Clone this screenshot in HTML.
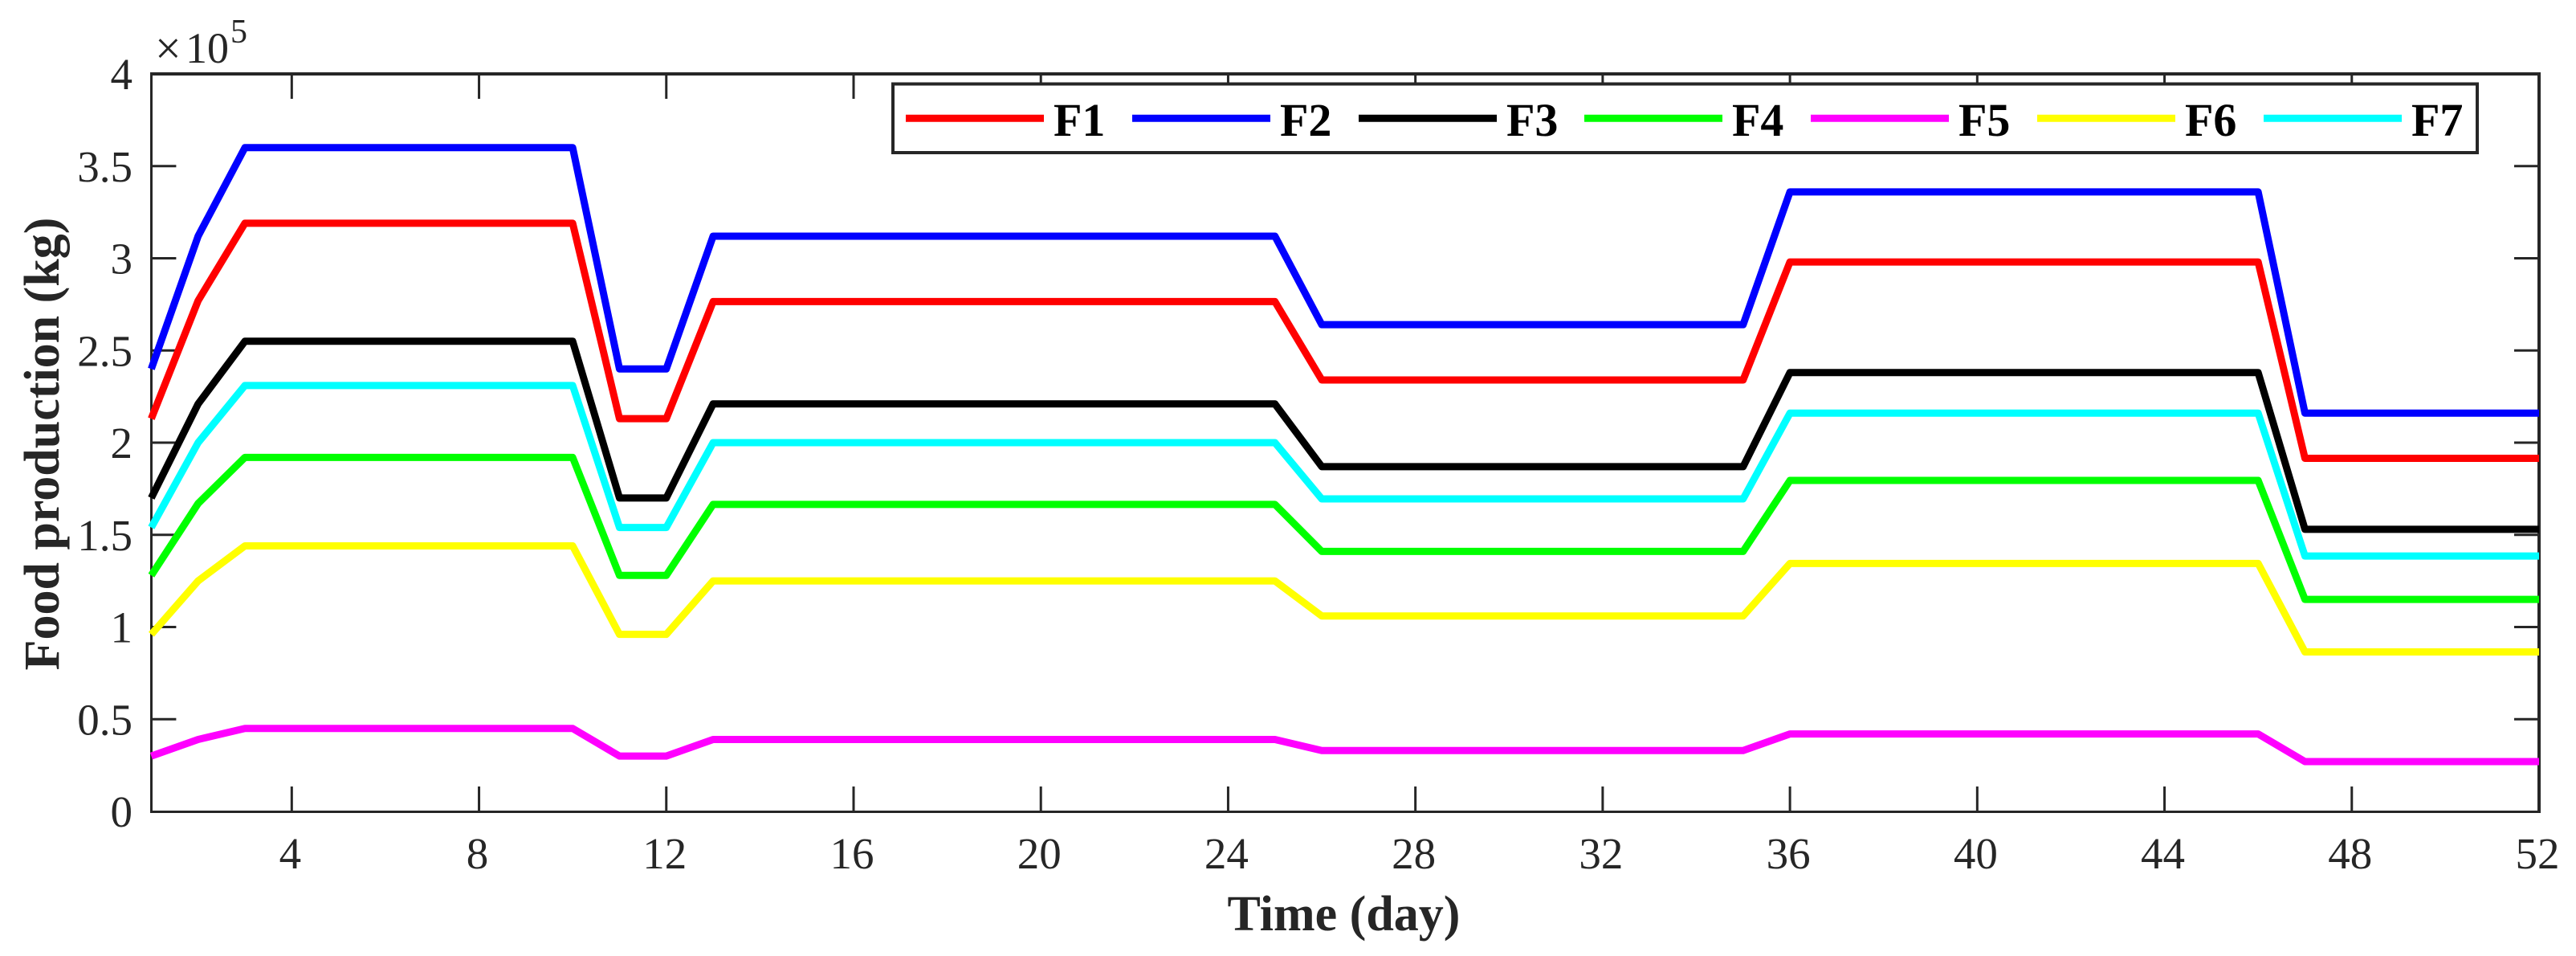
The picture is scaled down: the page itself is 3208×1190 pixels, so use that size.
<!DOCTYPE html>
<html lang="en">
<head>
<meta charset="utf-8">
<title>Food production over time</title>
<style>
html,body{margin:0;padding:0;background:#fff;}
svg{display:block;font-family:"Liberation Serif",serif;}
.tick-label{font-size:55px;fill:#262626;}
.axis-title{font-size:62px;font-weight:bold;fill:#262626;}
.legend-label{font-size:58px;font-weight:bold;fill:#000;}
</style>
</head>
<body>
<svg id="chart" xmlns="http://www.w3.org/2000/svg" width="3208" height="1190" viewBox="0 0 3208 1190">
  <rect x="0" y="0" width="3208" height="1190" fill="#fff"/>
  <g id="axes">
    <rect x="187" y="90" width="3" height="922" fill="#262626"/>
    <rect x="187" y="1009" width="2977" height="3" fill="#262626"/>
    <rect x="187" y="90" width="2977" height="4" fill="#262626"/>
    <rect x="3160" y="90" width="4" height="922" fill="#262626"/>
  </g>
  <g id="ticks"></g>
  <g id="series"></g>
  <g fill="#262626">
    <text x="193" y="79.5" font-size="58">×</text>
    <text x="231" y="78" font-size="54">10</text>
    <text x="287" y="53" font-size="42">5</text>
  </g>
  <text class="axis-title" x="1673.5" y="1158" text-anchor="middle">Time (day)</text>
  <text class="axis-title" transform="translate(73 552.5) rotate(-90)" text-anchor="middle">Food production (kg)</text>
  <g>
    <rect x="1112" y="104.5" width="1973" height="85.5" fill="#fff" stroke="#262626" stroke-width="4"/>
    <g><line x1="1128" x2="1300" y1="147.3" y2="147.3" stroke="#ff0000" stroke-width="9"/><text class="legend-label" x="1312" y="169">F1</text></g>
    <g><line x1="1410" x2="1582" y1="147.3" y2="147.3" stroke="#0000ff" stroke-width="9"/><text class="legend-label" x="1594" y="169">F2</text></g>
    <g><line x1="1692" x2="1864" y1="147.3" y2="147.3" stroke="#000000" stroke-width="9"/><text class="legend-label" x="1876" y="169">F3</text></g>
    <g><line x1="1973" x2="2145" y1="147.3" y2="147.3" stroke="#00ff00" stroke-width="9"/><text class="legend-label" x="2157" y="169">F4</text></g>
    <g><line x1="2255" x2="2427" y1="147.3" y2="147.3" stroke="#ff00ff" stroke-width="9"/><text class="legend-label" x="2439" y="169">F5</text></g>
    <g><line x1="2537" x2="2709" y1="147.3" y2="147.3" stroke="#ffff00" stroke-width="9"/><text class="legend-label" x="2721" y="169">F6</text></g>
    <g><line x1="2819" x2="2991" y1="147.3" y2="147.3" stroke="#00ffff" stroke-width="9"/><text class="legend-label" x="3003" y="169">F7</text></g>
  </g>
</svg>
<script>
const days = [1,2,3,4,5,6,7,8,9,10,11,12,13,14,15,16,17,18,19,20,21,22,23,24,25,26,27,28,29,30,31,32,33,34,35,36,37,38,39,40,41,42,43,44,45,46,47,48,49,50,51,52];
const xTickValues = [4,8,12,16,20,24,28,32,36,40,44,48,52];
const yTickValues = [0,0.5,1,1.5,2,2.5,3,3.5,4];
const yTickLabels = ['0','0.5','1','1.5','2','2.5','3','3.5','4'];
const seriesNames = ['F1','F2','F3','F4','F5','F6','F7'];
const seriesColors = ['#ff0000','#0000ff','#000000','#00ff00','#ff00ff','#ffff00','#00ffff'];
const f1 = [2.13,2.77,3.19,3.19,3.19,3.19,3.19,3.19,3.19,3.19,2.13,2.13,2.765,2.765,2.765,2.765,2.765,2.765,2.765,2.765,2.765,2.765,2.765,2.765,2.765,2.34,2.34,2.34,2.34,2.34,2.34,2.34,2.34,2.34,2.34,2.98,2.98,2.98,2.98,2.98,2.98,2.98,2.98,2.98,2.98,2.98,1.915,1.915,1.915,1.915,1.915,1.915];
const f2 = [2.4,3.12,3.6,3.6,3.6,3.6,3.6,3.6,3.6,3.6,2.4,2.4,3.12,3.12,3.12,3.12,3.12,3.12,3.12,3.12,3.12,3.12,3.12,3.12,3.12,2.64,2.64,2.64,2.64,2.64,2.64,2.64,2.64,2.64,2.64,3.36,3.36,3.36,3.36,3.36,3.36,3.36,3.36,3.36,3.36,3.36,2.16,2.16,2.16,2.16,2.16,2.16];
const f3 = [1.7,2.21,2.55,2.55,2.55,2.55,2.55,2.55,2.55,2.55,1.7,1.7,2.21,2.21,2.21,2.21,2.21,2.21,2.21,2.21,2.21,2.21,2.21,2.21,2.21,1.87,1.87,1.87,1.87,1.87,1.87,1.87,1.87,1.87,1.87,2.38,2.38,2.38,2.38,2.38,2.38,2.38,2.38,2.38,2.38,2.38,1.53,1.53,1.53,1.53,1.53,1.53];
const f4 = [1.28,1.67,1.92,1.92,1.92,1.92,1.92,1.92,1.92,1.92,1.28,1.28,1.665,1.665,1.665,1.665,1.665,1.665,1.665,1.665,1.665,1.665,1.665,1.665,1.665,1.41,1.41,1.41,1.41,1.41,1.41,1.41,1.41,1.41,1.41,1.795,1.795,1.795,1.795,1.795,1.795,1.795,1.795,1.795,1.795,1.795,1.15,1.15,1.15,1.15,1.15,1.15];
const f5 = [0.3,0.39,0.45,0.45,0.45,0.45,0.45,0.45,0.45,0.45,0.3,0.3,0.39,0.39,0.39,0.39,0.39,0.39,0.39,0.39,0.39,0.39,0.39,0.39,0.39,0.33,0.33,0.33,0.33,0.33,0.33,0.33,0.33,0.33,0.33,0.42,0.42,0.42,0.42,0.42,0.42,0.42,0.42,0.42,0.42,0.42,0.27,0.27,0.27,0.27,0.27,0.27];
const f6 = [0.96,1.25,1.44,1.44,1.44,1.44,1.44,1.44,1.44,1.44,0.96,0.96,1.25,1.25,1.25,1.25,1.25,1.25,1.25,1.25,1.25,1.25,1.25,1.25,1.25,1.06,1.06,1.06,1.06,1.06,1.06,1.06,1.06,1.06,1.06,1.345,1.345,1.345,1.345,1.345,1.345,1.345,1.345,1.345,1.345,1.345,0.865,0.865,0.865,0.865,0.865,0.865];
const f7 = [1.54,2.0,2.31,2.31,2.31,2.31,2.31,2.31,2.31,2.31,1.54,1.54,2.0,2.0,2.0,2.0,2.0,2.0,2.0,2.0,2.0,2.0,2.0,2.0,2.0,1.695,1.695,1.695,1.695,1.695,1.695,1.695,1.695,1.695,1.695,2.16,2.16,2.16,2.16,2.16,2.16,2.16,2.16,2.16,2.16,2.16,1.385,1.385,1.385,1.385,1.385,1.385];
const seriesValues = [f1,f2,f3,f4,f5,f6,f7];

const SVG_NS = 'http://www.w3.org/2000/svg';
const plotLeft = 188.4, plotRight = 3162, plotTop = 92, plotBottom = 1010;
const xMin = 1, xMax = 52, yMin = 0, yMax = 4;
function xScale(v){ return plotLeft + (v - xMin) / (xMax - xMin) * (plotRight - plotLeft); }
function yScale(v){ return plotBottom - (v - yMin) / (yMax - yMin) * (plotBottom - plotTop); }

const ticksGroup = document.getElementById('ticks');
const seriesGroup = document.getElementById('series');

function makeLine(x1, y1, x2, y2, width){
  const line = document.createElementNS(SVG_NS, 'line');
  line.setAttribute('x1', x1);
  line.setAttribute('y1', y1);
  line.setAttribute('x2', x2);
  line.setAttribute('y2', y2);
  line.setAttribute('stroke', '#262626');
  line.setAttribute('stroke-width', width);
  return line;
}
function makeLabel(str, x, y, anchor){
  const t = document.createElementNS(SVG_NS, 'text');
  t.setAttribute('class', 'tick-label');
  t.setAttribute('x', x);
  t.setAttribute('y', y);
  t.setAttribute('text-anchor', anchor);
  t.textContent = str;
  return t;
}

xTickValues.forEach(function(v){
  const x = xScale(v);
  if (v < xMax) {
    const bottomTick = makeLine(x, plotBottom, x, plotBottom - 31, 3);
    
    
    ticksGroup.appendChild(bottomTick);
    const topTick = makeLine(x, plotTop, x, plotTop + 31, 3);
    
    
    ticksGroup.appendChild(topTick);
  }
  const label = makeLabel(String(v), x - 2, 1081, 'middle');
  
  
  ticksGroup.appendChild(label);
});

yTickValues.forEach(function(v, i){
  const y = yScale(v);
  if (v > yMin && v < yMax) {
    const leftTick = makeLine(plotLeft, y, plotLeft + 31, y, 3);
    
    
    ticksGroup.appendChild(leftTick);
    const rightTick = makeLine(plotRight, y, plotRight - 31, y, 3);
    
    
    ticksGroup.appendChild(rightTick);
  }
  const label = makeLabel(yTickLabels[i], 165, y + 19, 'end');
  
  
  ticksGroup.appendChild(label);
});

seriesValues.forEach(function(values, i){
  const pts = values.map(function(v, k){
    return xScale(days[k]).toFixed(2) + ',' + yScale(v).toFixed(2);
  }).join(' ');
  const line = document.createElementNS(SVG_NS, 'polyline');
  line.setAttribute('points', pts);
  line.setAttribute('fill', 'none');
  line.setAttribute('stroke', seriesColors[i]);
  line.setAttribute('stroke-width', '9');
  line.setAttribute('stroke-linejoin', 'round');
  line.setAttribute('stroke-linecap', 'butt');
  
  
  seriesGroup.appendChild(line);
});
</script>
</body>
</html>
